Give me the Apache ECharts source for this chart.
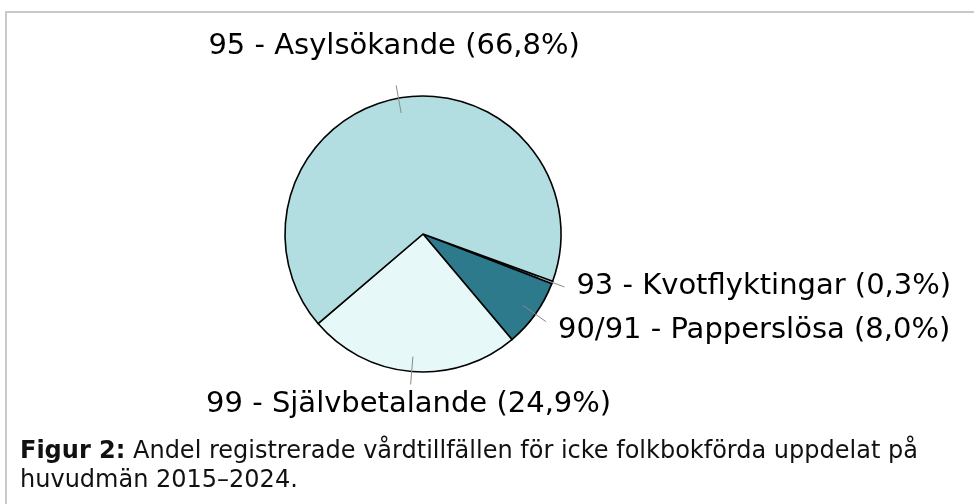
<!DOCTYPE html>
<html>
<head>
<meta charset="utf-8">
<script src="https://cdn.jsdelivr.net/npm/echarts@6/dist/echarts.min.js"></script>
<style>
  html, body { margin: 0; padding: 0; background: #fff; }
  #main { width: 974px; height: 504px; }
</style>
</head>
<body>
<div id="main"></div>
<script>
// huvudmän, andel i procent
var categories = ['93 - Kvotflyktingar', '90/91 - Papperslösa', '99 - Självbetalande', '95 - Asylsökande'];
var shares = [0.3, 8.0, 24.9, 66.8];
var sliceColors = ['#8fc0cb', '#2e7a8d', '#e6f8f8', '#b3dee1'];
var captionBold = 'Figur 2:';
var captionLine1 = ' Andel registrerade vårdtillfällen för icke folkbokförda uppdelat på';
var captionLine2 = 'huvudmän 2015–2024.';

var pieCenter = [423, 234];
var pieRadius = 138;

var sliceData = categories.map(function (name, i) {
    return { name: name, value: shares[i], itemStyle: { color: sliceColors[i] } };
});
var labelData = categories.map(function (name, i) {
    return { name: name, value: shares[i] };
});

function fmtPct(v) {
    return v.toFixed(1).replace('.', ',') + '%';
}

var myChart = echarts.init(document.getElementById('main'), null, { renderer: 'canvas' });

var option = {
    backgroundColor: '#ffffff',
    animation: false,
    graphic: [{
        type: 'rect',
        shape: { x: 6, y: 12, width: 1000, height: 600 },
        style: { fill: 'none', stroke: '#c9c9c9', lineWidth: 2 },
        silent: true
    }],
    title: {
        left: 15,
        top: 432,
        text: '{b|' + captionBold + '}{r|' + captionLine1 + '}\n{r|' + captionLine2 + '}',
        textStyle: {
            fontWeight: 'normal',
            rich: {
                b: { fontFamily: 'DejaVu Sans', fontWeight: 'bold', fontSize: 24, color: '#111', lineHeight: 29 },
                r: { fontFamily: 'DejaVu Sans', fontWeight: 'normal', fontSize: 24, color: '#111', lineHeight: 29 }
            }
        }
    },
    series: [
        {
            // the slices themselves
            type: 'pie',
            z: 2,
            center: pieCenter,
            radius: pieRadius,
            startAngle: -20,
            clockwise: true,
            silent: true,
            label: { show: false },
            labelLine: { show: false },
            itemStyle: { borderColor: '#000', borderWidth: 1.6 },
            data: sliceData
        },
        {
            // transparent copy, only for labels + leader lines that cross the edge
            type: 'pie',
            z: 5,
            center: pieCenter,
            radius: pieRadius - 15,
            startAngle: -20,
            clockwise: true,
            silent: true,
            avoidLabelOverlap: false,
            itemStyle: { color: 'rgba(0,0,0,0)', borderWidth: 0 },
            label: {
                show: true,
                position: 'outside',
                fontFamily: 'DejaVu Sans',
                fontSize: 29,
                color: '#000',
                formatter: function (p) {
                    return p.name + ' (' + fmtPct(p.value) + ')';
                }
            },
            labelLine: {
                show: true,
                length: 28,
                length2: 0,
                smooth: false,
                lineStyle: { color: '#8a8a8a', width: 1 }
            },
            labelLayout: function (params) {
                var pts = params.labelLinePoints;
                if (!pts) return {};
                var end = pts[pts.length - 1];
                var dx = end[0] - pieCenter[0];
                var dy = end[1] - pieCenter[1];
                var out = { labelLinePoints: pts };
                if (Math.abs(dx) < Math.abs(dy) * 0.4) {
                    // near top / bottom: centred over the line
                    out.x = end[0] - 2;
                    out.align = 'center';
                    if (dy < 0) {
                        out.y = end[1] - 24;
                        out.verticalAlign = 'bottom';
                    } else {
                        out.y = end[1] + 5;
                        out.verticalAlign = 'top';
                    }
                } else {
                    out.x = end[0] + 12;
                    out.align = 'left';
                    out.verticalAlign = 'middle';
                    out.y = end[1] + (dy > 70 ? 9 : -1);
                }
                return out;
            },
            data: labelData
        }
    ]
};

myChart.setOption(option);
</script>
</body>
</html>
